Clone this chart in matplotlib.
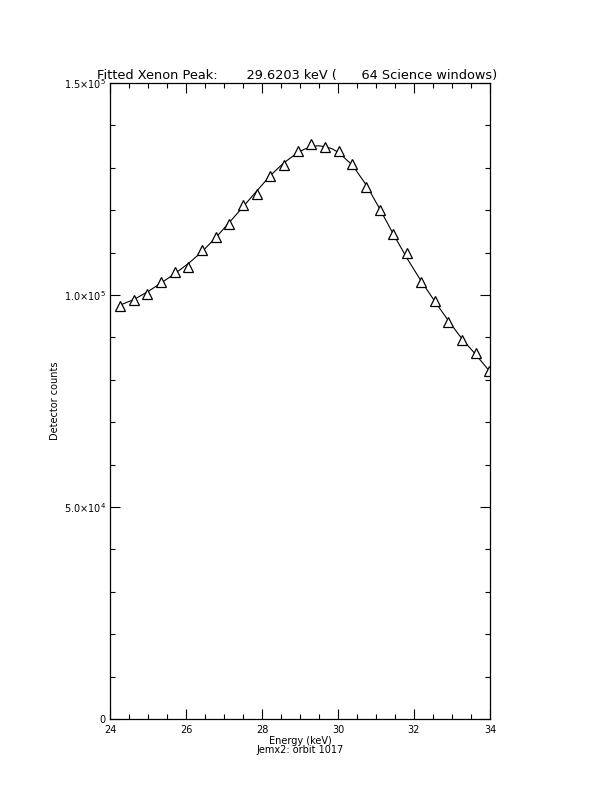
import matplotlib
matplotlib.use('Agg')
import matplotlib.pyplot as plt
from matplotlib.ticker import MultipleLocator

# measured spectrum (keV, counts / 1e4)
energy = [24.26, 24.62, 24.98, 25.34, 25.70, 26.06, 26.42, 26.78, 27.14, 27.50,
          27.86, 28.22, 28.58, 28.94, 29.30, 29.66, 30.02, 30.38, 30.74, 31.10,
          31.46, 31.82, 32.18, 32.54, 32.90, 33.26, 33.62, 33.98]
counts = [9.75, 9.88, 10.03, 10.30, 10.54, 10.65, 11.05, 11.37, 11.67, 12.12,
          12.39, 12.81, 13.06, 13.40, 13.56, 13.50, 13.39, 13.09, 12.55, 12.00,
          11.45, 10.99, 10.31, 9.86, 9.37, 8.95, 8.64, 8.21]

# fitted curve
fit_energy = [24.26, 24.62, 24.98, 25.34, 25.70, 26.06, 26.42, 26.78, 27.14, 27.50,
              27.86, 28.22, 28.58, 28.94, 29.12, 29.30, 29.48, 29.66, 29.84, 30.02,
              30.38, 30.74, 31.10, 31.46, 31.82, 32.18, 32.54, 32.90, 33.26, 33.62, 34.00]
fit_counts = [9.76, 9.89, 10.07, 10.28, 10.50, 10.74, 11.02, 11.35, 11.71, 12.08,
              12.45, 12.82, 13.12, 13.36, 13.44, 13.50, 13.52, 13.50, 13.45, 13.36,
              13.06, 12.60, 12.03, 11.43, 10.86, 10.34, 9.86, 9.40, 8.97, 8.60, 8.19]

title = 'Fitted Xenon Peak:       29.6203 keV (      64 Science windows)'
ytick_vals = [0, 5.0, 10.0, 15.0]
ytick_labels = ['0', '5.0\u00d710$^4$', '1.0\u00d710$^5$', '1.5\u00d710$^5$']

fig = plt.figure(figsize=(6.12, 7.92), dpi=100)
ax = fig.add_axes([110 / 612, 1 - 719 / 792, 380 / 612, 636 / 792])

ax.plot(fit_energy, fit_counts, color='black', lw=0.8)
ax.plot(energy, counts, ls='none', marker='^', ms=7, mfc='white', mec='black', mew=0.9)

ax.set_xlim(24, 34)
ax.set_ylim(0, 15)
ax.xaxis.set_major_locator(MultipleLocator(2))
ax.xaxis.set_minor_locator(MultipleLocator(0.5))
ax.set_yticks(ytick_vals)
ax.set_yticklabels(ytick_labels)
ax.yaxis.set_minor_locator(MultipleLocator(1))
ax.tick_params(which='both', direction='in', top=True, right=True,
               labelsize=7, width=0.8)
ax.tick_params(axis='x', pad=4)
ax.tick_params(axis='y', pad=3)
ax.tick_params(which='major', length=7)
ax.tick_params(which='minor', length=3.5)
for s in ax.spines.values():
    s.set_linewidth(0.9)

ax.set_xlabel('Energy (keV)\nJemx2: orbit 1017', fontsize=7, labelpad=1, linespacing=0.9)
ax.set_ylabel('Detector counts', fontsize=7, labelpad=3)
fig.text(97 / 612, 1 - 76 / 792, title, fontsize=9.3, ha='left', va='center')

fig.savefig('out.png', dpi=100)
